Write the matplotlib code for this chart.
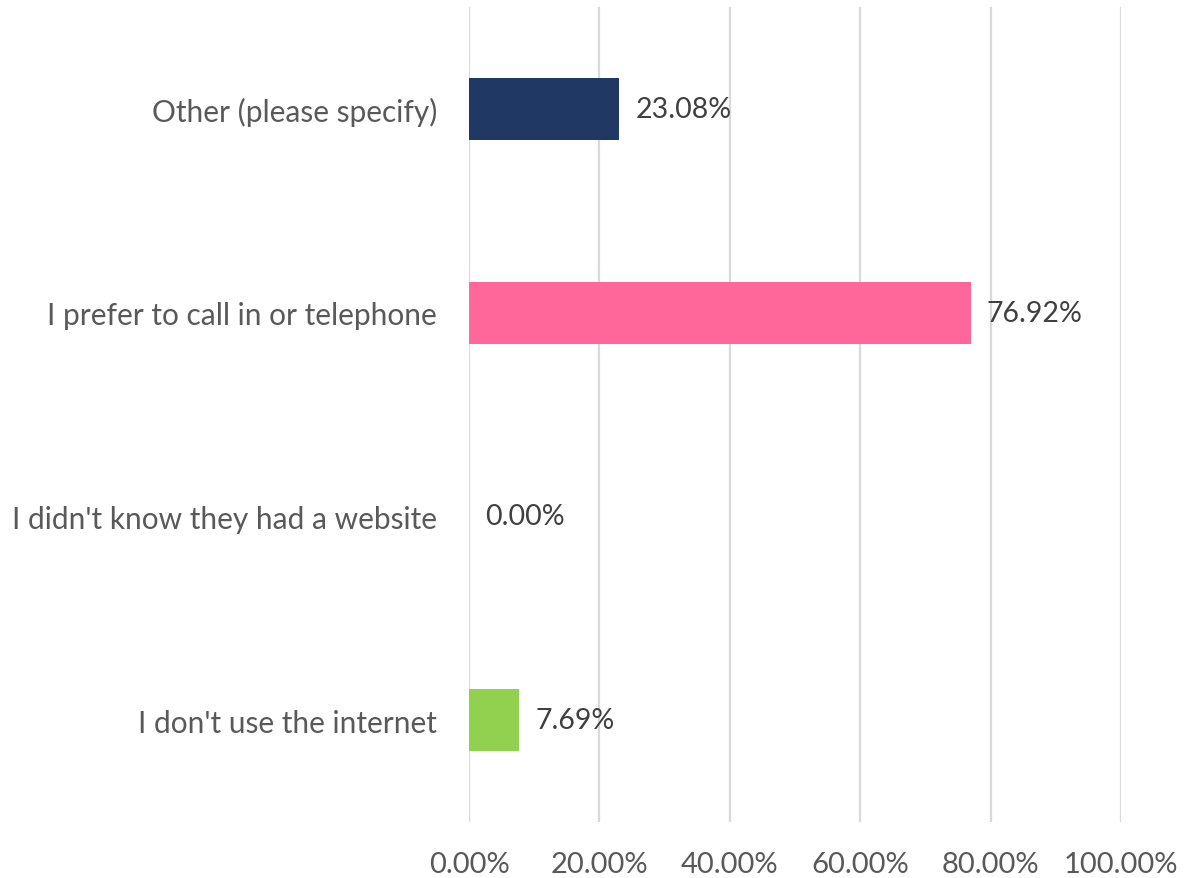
import matplotlib.pyplot as plt

categories = ["I don't use the internet", "I didn't know they had a website",
              "I prefer to call in or telephone", "Other (please specify)"]
values = [7.69, 0.00, 76.92, 23.08]
colors = ["#92D050", "#FFFFFF", "#FF6699", "#203864"]
ticks = [0, 20, 40, 60, 80, 100]

plt.rcParams['font.family'] = ['Lato', 'DejaVu Sans']

fig = plt.figure(figsize=(12.01, 8.79), dpi=100)
ax = fig.add_axes([469 / 1201, 56 / 879, 652 / 1201, 815 / 879])

pos = range(len(categories))
ax.barh(pos, values, height=0.305, color=colors, zorder=3)

for y, v in zip(pos, values):
    ax.text(v + 2.5, y, f"{v:.2f}%", va='center', ha='left',
            fontsize=20.5, color='#404040')

ax.set_xlim(0, 100)
ax.set_ylim(-0.5, len(categories) - 0.5)
ax.set_xticks(ticks)
ax.set_xticklabels([f"{t:.2f}%" for t in ticks], fontsize=21, color='#595959')
ax.set_yticks(list(pos))
ax.set_yticklabels(categories, fontsize=21.5, color='#595959')
ax.tick_params(length=0)
ax.tick_params(axis='x', pad=21)
ax.tick_params(axis='y', pad=23)
ax.grid(axis='x', color='#D9D9D9', linewidth=1.6, zorder=0)
for s in ax.spines.values():
    s.set_visible(False)

fig.savefig('out.png', dpi=100)
